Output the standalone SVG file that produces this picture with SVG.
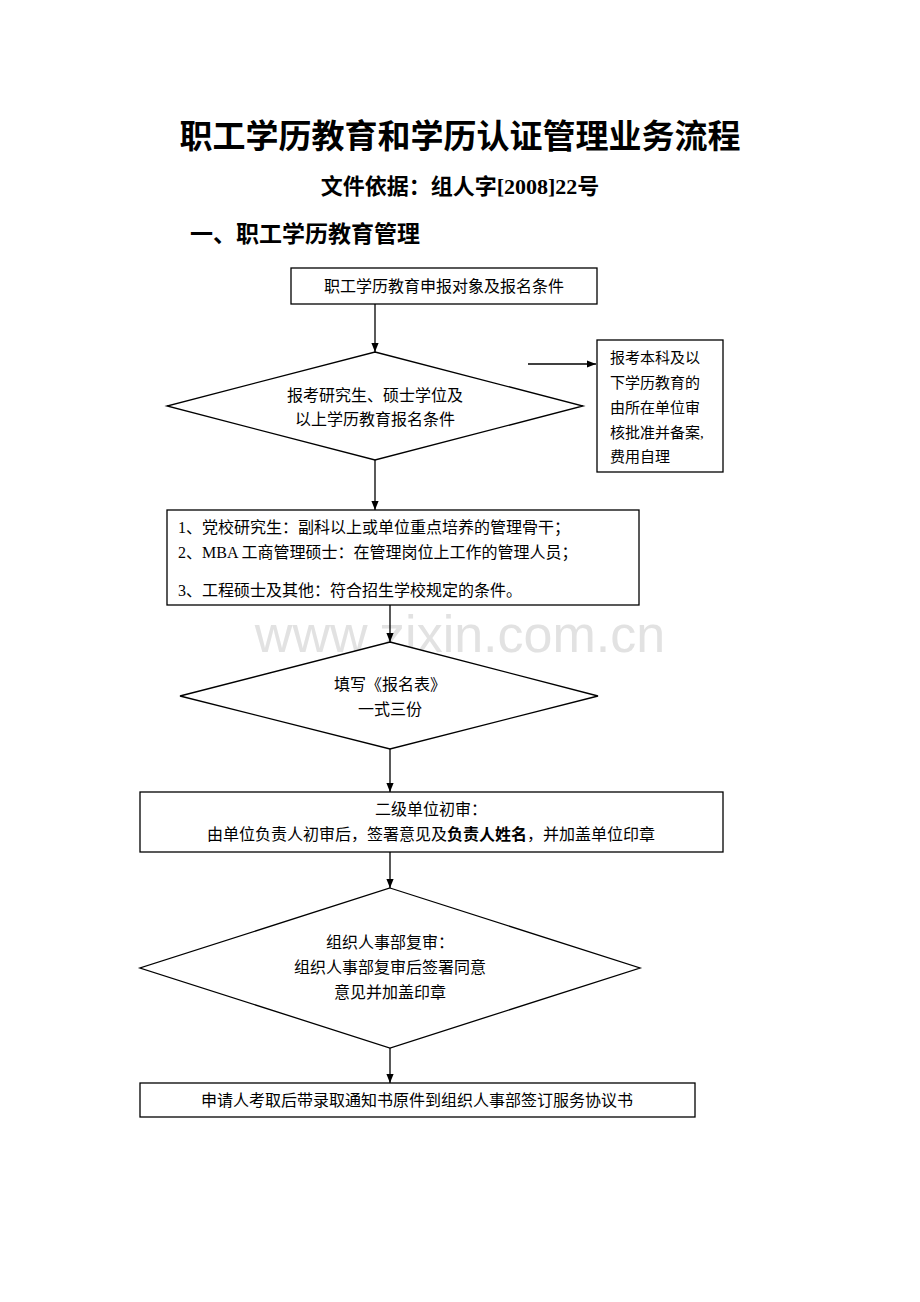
<svg xmlns="http://www.w3.org/2000/svg" width="920" height="1302" viewBox="0 0 920 1302">
<style>
.s{fill:#fff;stroke:#000;stroke-width:1.3}
.t{font-family:"Liberation Serif","Noto Sans CJK SC",serif;font-size:16px;fill:#000}
.c{text-anchor:middle}
.l{stroke:#000;stroke-width:1.3;fill:none;marker-end:url(#a)}
</style>
<defs><marker id="a" viewBox="0 0 10 10" refX="10" refY="5" markerWidth="7" markerHeight="7" orient="auto"><path d="M0,1 L10,5 L0,9 z" fill="#000"/></marker></defs>
<rect width="920" height="1302" fill="#fff"/>
<text x="460" y="148" class="t c" style="font-size:33px;font-weight:bold">职工学历教育和学历认证管理业务流程</text>
<text x="460" y="194" class="t c" style="font-size:22px;font-weight:bold">文件依据：组人字[2008]22号</text>
<text x="190" y="242" class="t" style="font-size:23px;font-weight:bold">一、职工学历教育管理</text>
<text x="460" y="652" class="t c" style="font-family:'Liberation Sans',sans-serif;font-size:52px;fill:#e2e2e2">www.zixin.com.cn</text>
<g id="connectors">
<path class="l" d="M375,304 V352"/>
<path class="l" d="M528,364 H596"/>
<path class="l" d="M375,460 V510"/>
<path class="l" d="M390,605 V642"/>
<path class="l" d="M390,749 V792"/>
<path class="l" d="M390,852 V888"/>
<path class="l" d="M390,1048 V1083"/>
</g>
<g id="n1"><rect class="s" x="291" y="268" width="306" height="36"/><text x="444" y="292" class="t c">职工学历教育申报对象及报名条件</text></g>
<g id="n2"><polygon class="s" points="375,352 583,406 375,460 167,406"/><text x="375" y="401" class="t c">报考研究生、硕士学位及</text><text x="375" y="425" class="t c">以上学历教育报名条件</text></g>
<g id="n3"><rect class="s" x="597" y="340" width="126" height="132"/>
<text class="t" style="font-size:15px" x="610"><tspan x="610" y="363">报考本科及以</tspan><tspan x="610" y="388">下学历教育的</tspan><tspan x="610" y="413">由所在单位审</tspan><tspan x="610" y="438">核批准并备案,</tspan><tspan x="610" y="462">费用自理</tspan></text></g>
<g id="n4"><rect class="s" x="167" y="510" width="472" height="95"/>
<text class="t" x="178" y="533">1、党校研究生：副科以上或单位重点培养的管理骨干；</text>
<text class="t" x="178" y="558">2、MBA 工商管理硕士：在管理岗位上工作的管理人员；</text>
<text class="t" x="178" y="596">3、工程硕士及其他：符合招生学校规定的条件。</text></g>
<g id="n5"><polygon class="s" points="390,642 598,696 390,749 180,696"/><text x="390" y="690" class="t c">填写《报名表》</text><text x="390" y="715" class="t c">一式三份</text></g>
<g id="n6"><rect class="s" x="140" y="792" width="583" height="60"/><text x="431" y="815" class="t c">二级单位初审：</text><text x="431" y="840" class="t c">由单位负责人初审后，签署意见及<tspan font-weight="bold">负责人姓名</tspan>，并加盖单位印章</text></g>
<g id="n7"><polygon class="s" points="390,888 640,968 390,1048 140,968"/><text x="390" y="948" class="t c">组织人事部复审：</text><text x="390" y="973" class="t c">组织人事部复审后签署同意</text><text x="390" y="998" class="t c">意见并加盖印章</text></g>
<g id="n8"><rect class="s" x="140" y="1083" width="555" height="34"/><text x="417" y="1106" class="t c">申请人考取后带录取通知书原件到组织人事部签订服务协议书</text></g>
</svg>
